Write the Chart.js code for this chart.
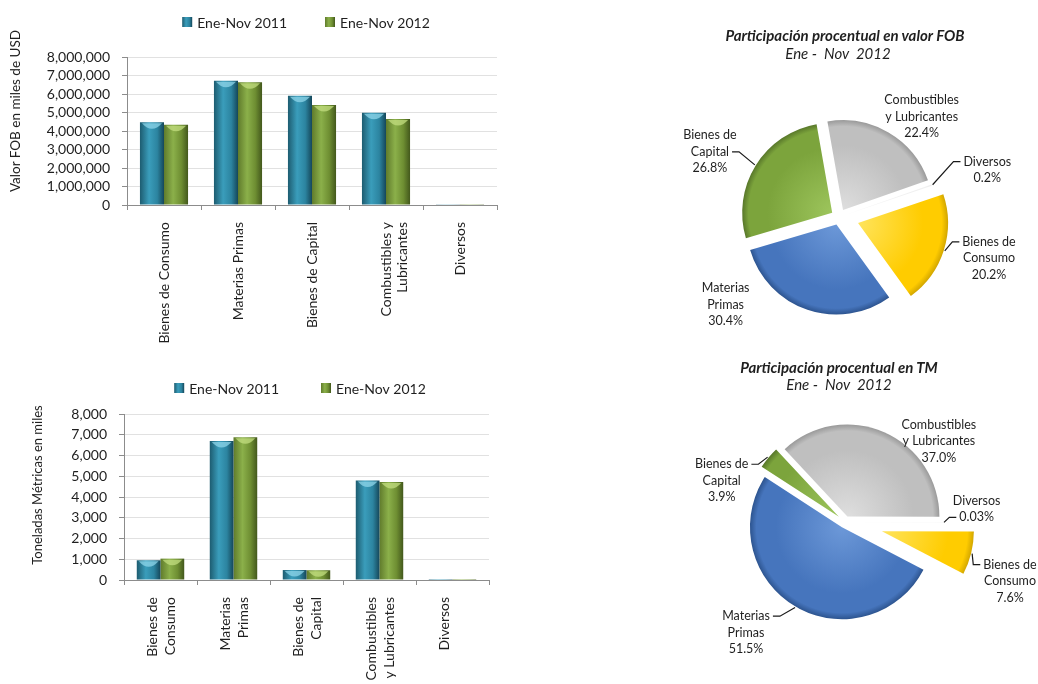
<!DOCTYPE html>
<html>
<head>
<meta charset="utf-8">
<script src="https://cdn.jsdelivr.net/npm/chart.js@4.4.1/dist/chart.umd.min.js"></script>
<style>
  html, body { margin: 0; padding: 0; background: #fff; }
  #page { position: relative; width: 1038px; height: 684px; overflow: hidden; font-family: Lato, "Open Sans", sans-serif; color: #1f1f1f; }
  .box { position: absolute; }
  .ptitle, .psub { position: absolute; width: 300px; text-align: center; line-height: 17px; white-space: pre; }
  .ptitle { font: italic bold 15px Lato, sans-serif; }
  .psub { font: italic 15px Lato, sans-serif; }
  .ytitle { position: absolute; width: 240px; height: 18px; line-height: 18px; text-align: center; white-space: nowrap;
            transform: rotate(-90deg); transform-origin: 50% 50%; }
</style>
</head>
<body>
<div id="page">
  <div class="box" style="left:0;top:0;width:520px;height:360px"><canvas id="fob"></canvas></div>
  <div class="box" style="left:0;top:360px;width:520px;height:324px"><canvas id="tm"></canvas></div>

  <div class="ytitle" style="left:-105px;top:102px;font-size:13.5px">Valor FOB en miles de USD</div>
  <div class="ytitle" style="left:-83px;top:476px;font-size:13px">Toneladas Métricas en miles</div>

  <div class="box" style="left:660px;top:40px;width:378px;height:320px"><canvas id="pieFob"></canvas></div>
  <div class="box" style="left:660px;top:395px;width:378px;height:289px"><canvas id="pieTm"></canvas></div>

  <div class="ptitle" style="left:695px;top:26px">Participación procentual en valor FOB</div>
  <div class="psub" style="left:688px;top:44px">Ene -  Nov  2012</div>
  <div class="ptitle" style="left:689px;top:358px">Participación procentual en TM</div>
  <div class="psub" style="left:689px;top:375px">Ene -  Nov  2012</div>
</div>

<script>
// --- datos ---
const seriesNames = ['Ene-Nov 2011', 'Ene-Nov 2012'];

// valor FOB, miles de USD
const fobCats = ['Bienes de Consumo', 'Materias Primas', 'Bienes de Capital', ['Combustibles y', 'Lubricantes'], 'Diversos'];
const fob2011 = [4470000, 6710000, 5900000, 4980000, 38000];
const fob2012 = [4340000, 6640000, 5400000, 4650000, 42000];

// toneladas métricas, miles
const tmCats = [['Bienes de', 'Consumo'], ['Materias', 'Primas'], ['Bienes de', 'Capital'], ['Combustibles', 'y Lubricantes'], 'Diversos'];
const tm2011 = [950, 6700, 480, 4790, 5];
const tm2012 = [1030, 6880, 470, 4720, 4];

// participación porcentual Ene-Nov 2012 (orden horario)
const pieNames = [['Combustibles', 'y Lubricantes'], ['Diversos'], ['Bienes de', 'Consumo'], ['Materias', 'Primas'], ['Bienes de', 'Capital']];
const fobShare = [22.4, 0.2, 20.2, 30.4, 26.8];
const tmShare = [37.0, 0.03, 7.6, 51.5, 3.9];

// --- estilos ---
const INK = '#1f1f1f';
const AXIS = '#8c8c8c';
const GRID = '#e1e1e1';
const TEAL = ['#1d5c70', '#3a9dbb', '#2c84a0', '#15475a', '#8fd6ea'];
const GREEN = ['#607b2c', '#8bb04a', '#6e8e32', '#43581c', '#c3dd80'];
const PIE_SHADES = [
  ['#dedede', '#bfbfbf', '#9a9a9a'],
  ['#f4f4f4', '#f0f0f0', '#ececec'],
  ['#ffe45c', '#ffcc00', '#d2a600'],
  ['#6c98d8', '#4675bd', '#2d548f'],
  ['#9dc55c', '#7ca43c', '#58772a']
];

Chart.defaults.font.family = 'Lato, "Open Sans", sans-serif';
Chart.defaults.color = INK;

function shadeGradient(ctx, l, r, s) {
  const g = ctx.createLinearGradient(l, 0, r, 0);
  g.addColorStop(0, s[0]);
  g.addColorStop(0.38, s[1]);
  g.addColorStop(0.72, s[2]);
  g.addColorStop(1, s[3]);
  return g;
}

// barras tipo cilindro
const cylinder = {
  id: 'cylinder',
  beforeDatasetsDraw(chart) {
    const ctx = chart.ctx;
    chart.data.datasets.forEach((ds, di) => {
      chart.getDatasetMeta(di).data.forEach(bar => {
        bar.options.backgroundColor = shadeGradient(ctx, bar.x - bar.width / 2, bar.x + bar.width / 2, ds.shades);
      });
    });
  },
  afterDatasetsDraw(chart) {
    const ctx = chart.ctx;
    ctx.save();
    chart.data.datasets.forEach((ds, di) => {
      chart.getDatasetMeta(di).data.forEach(bar => {
        const h = bar.base - bar.y;
        if (h < 8) return;
        const l = bar.x - bar.width / 2 + 2, r = bar.x + bar.width / 2 - 2;
        ctx.beginPath();
        ctx.moveTo(l, bar.y + 1);
        ctx.quadraticCurveTo(bar.x, bar.y + 12, r, bar.y + 1);
        ctx.closePath();
        ctx.globalAlpha = 0.75;
        ctx.fillStyle = ds.shades[4];
        ctx.fill();
      });
    });
    ctx.restore();
  }
};

// leyenda en una fila
const legendRow = {
  id: 'legendRow',
  afterDraw(chart, args, opts) {
    const ctx = chart.ctx;
    const items = chart.data.datasets;
    const box = 10, gap = 5;
    ctx.save();
    ctx.font = '14px Lato, sans-serif';
    ctx.textBaseline = 'middle';
    const widths = items.map(d => box + gap + ctx.measureText(d.label).width);
    const total = widths.reduce((s, w) => s + w, 0) + opts.space * (items.length - 1);
    let x = opts.cx - total / 2;
    items.forEach((d, i) => {
      ctx.fillStyle = shadeGradient(ctx, x, x + box, d.shades);
      ctx.fillRect(x, opts.y - box / 2, box, box);
      ctx.fillStyle = INK;
      ctx.fillText(d.label, x + box + gap, opts.y + 1);
      x += widths[i] + opts.space;
    });
    ctx.restore();
  }
};

function barChart(id, cats, v11, v12, o) {
  return new Chart(document.getElementById(id), {
    type: 'bar',
    data: {
      labels: cats,
      datasets: [
        { label: seriesNames[0], data: v11, shades: TEAL, backgroundColor: () => TEAL[1], categoryPercentage: 0.65, barPercentage: 1 },
        { label: seriesNames[1], data: v12, shades: GREEN, backgroundColor: () => GREEN[1], categoryPercentage: 0.65, barPercentage: 1 }
      ]
    },
    options: {
      responsive: true,
      maintainAspectRatio: false,
      animation: false,
      events: [],
      layout: { padding: o.padding },
      plugins: {
        legend: { display: false },
        tooltip: { enabled: false },
        legendRow: o.legend
      },
      scales: {
        x: {
          grid: { offset: true, drawOnChartArea: false, tickLength: 5, color: AXIS },
          border: { color: AXIS },
          ticks: { minRotation: 90, maxRotation: 90, autoSkip: false, padding: 12, labelOffset: o.labelOffset,
                   color: INK, font: { size: 14, lineHeight: o.lineHeight } },
          afterFit: s => { s.height = o.xHeight; }
        },
        y: {
          min: 0,
          max: o.max,
          ticks: { stepSize: o.step, autoSkip: false, padding: 12, color: INK, font: { size: 14 },
                   callback: v => v.toLocaleString('en-US') },
          grid: { color: GRID, tickColor: AXIS, tickLength: 5 },
          border: { color: AXIS },
          afterFit: s => { s.width = o.yWidth; }
        }
      }
    },
    plugins: [cylinder, legendRow]
  });
}

barChart('fob', fobCats, fob2011, fob2012, {
  max: 8000000, step: 1000000,
  padding: { top: 57, left: 0, right: 23, bottom: 0 }, yWidth: 127, xHeight: 155,
  labelOffset: 0, lineHeight: 1.2, legend: { cx: 306, y: 22, space: 38 }
});

barChart('tm', tmCats, tm2011, tm2012, {
  max: 8000, step: 1000,
  padding: { top: 54, left: 26, right: 31, bottom: 0 }, yWidth: 98, xHeight: 104,
  labelOffset: -8, lineHeight: 1.3, legend: { cx: 300, y: 28, space: 42 }
});

// --- tortas ---
// separa cada porción del centro (px)
const explode = {
  id: 'explode',
  afterDatasetUpdate(chart, args, opts) {
    args.meta.data.forEach((arc, i) => {
      const d = opts.by[i] || 0;
      const mid = (arc.startAngle + arc.endAngle) / 2;
      arc.x += Math.cos(mid) * d;
      arc.y += Math.sin(mid) * d;
    });
  }
};

const bevel = {
  id: 'bevel',
  beforeDatasetsDraw(chart) {
    const ctx = chart.ctx;
    chart.getDatasetMeta(0).data.forEach((arc, i) => {
      const s = PIE_SHADES[i];
      const g = ctx.createRadialGradient(arc.x, arc.y, 0, arc.x, arc.y, arc.outerRadius);
      g.addColorStop(0, s[0]);
      g.addColorStop(0.72, s[1]);
      g.addColorStop(0.93, s[1]);
      g.addColorStop(1, s[2]);
      arc.options.backgroundColor = g;
    });
  }
};

const pct = v => (v < 0.1 ? v.toFixed(2) : v.toFixed(1)) + '%';

const sliceLabels = {
  id: 'sliceLabels',
  afterDatasetsDraw(chart, args, opts) {
    const ctx = chart.ctx;
    const area = chart.chartArea;
    const cx = (area.left + area.right) / 2, cy = (area.top + area.bottom) / 2;
    const values = chart.data.datasets[0].data;
    const lh = 16.5;
    ctx.save();
    ctx.font = '12.5px Lato, sans-serif';
    ctx.textAlign = 'center';
    ctx.textBaseline = 'middle';
    ctx.fillStyle = INK;
    ctx.strokeStyle = '#1a1a1a';
    ctx.lineWidth = 1.2;
    chart.getDatasetMeta(0).data.forEach((arc, i) => {
      const lines = [...chart.data.labels[i], pct(values[i])];
      const a = opts.place[i][0] * Math.PI / 180, dist = opts.place[i][1];
      const lx = cx + Math.sin(a) * dist, ly = cy - Math.cos(a) * dist;
      const lineY = j => ly + (j - (lines.length - 1) / 2) * lh;
      lines.forEach((t, j) => ctx.fillText(t, lx, lineY(j)));
      const j = opts.leader[i];
      if (j === null) return;
      const mid = (arc.startAngle + arc.endAngle) / 2;
      const px = arc.x + Math.cos(mid) * (arc.outerRadius + 1);
      const py = arc.y + Math.sin(mid) * (arc.outerRadius + 1);
      const w = ctx.measureText(lines[j]).width;
      const dir = lx > cx ? -1 : 1;
      const ax = lx + dir * (w / 2 + 3), ay = lineY(j);
      ctx.beginPath();
      ctx.moveTo(px, py);
      ctx.lineTo(ax + dir * 7, ay);
      ctx.lineTo(ax, ay);
      ctx.stroke();
    });
    ctx.restore();
  }
};

function pieChart(id, shares, o) {
  return new Chart(document.getElementById(id), {
    type: 'pie',
    data: {
      labels: pieNames,
      datasets: [{ data: shares, backgroundColor: c => PIE_SHADES[c.dataIndex][1], borderWidth: 0 }]
    },
    options: {
      responsive: true,
      maintainAspectRatio: false,
      animation: false,
      events: [],
      rotation: o.rotation,
      radius: o.radius,
      layout: { padding: o.padding },
      plugins: {
        legend: { display: false },
        tooltip: { enabled: false },
        explode: { by: o.explode },
        sliceLabels: { place: o.place, leader: o.leader }
      }
    },
    plugins: [explode, bevel, sliceLabels]
  });
}

pieChart('pieFob', fobShare, {
  rotation: -10, radius: 90, padding: { top: 34, right: 20, left: 0, bottom: 0 },
  explode: [8, 8, 20, 8, 8],
  place: [[39.5, 130], [72.4, 155.6], [105.4, 155.6], [232.2, 143.5], [296.8, 144.6]],
  leader: [null, 0, 0, null, 1]
});

pieChart('pieTm', tmShare, {
  rotation: -43, radius: 92, padding: { top: 0, right: 8, left: 0, bottom: 35 },
  explode: [6, 6, 38, 6, 8],
  place: [[49.2, 124], [84.4, 132.3], [109.7, 175.2], [221.8, 148.5], [288.5, 130]],
  leader: [null, 1, 0, 0, 0]
});
</script>
</body>
</html>
